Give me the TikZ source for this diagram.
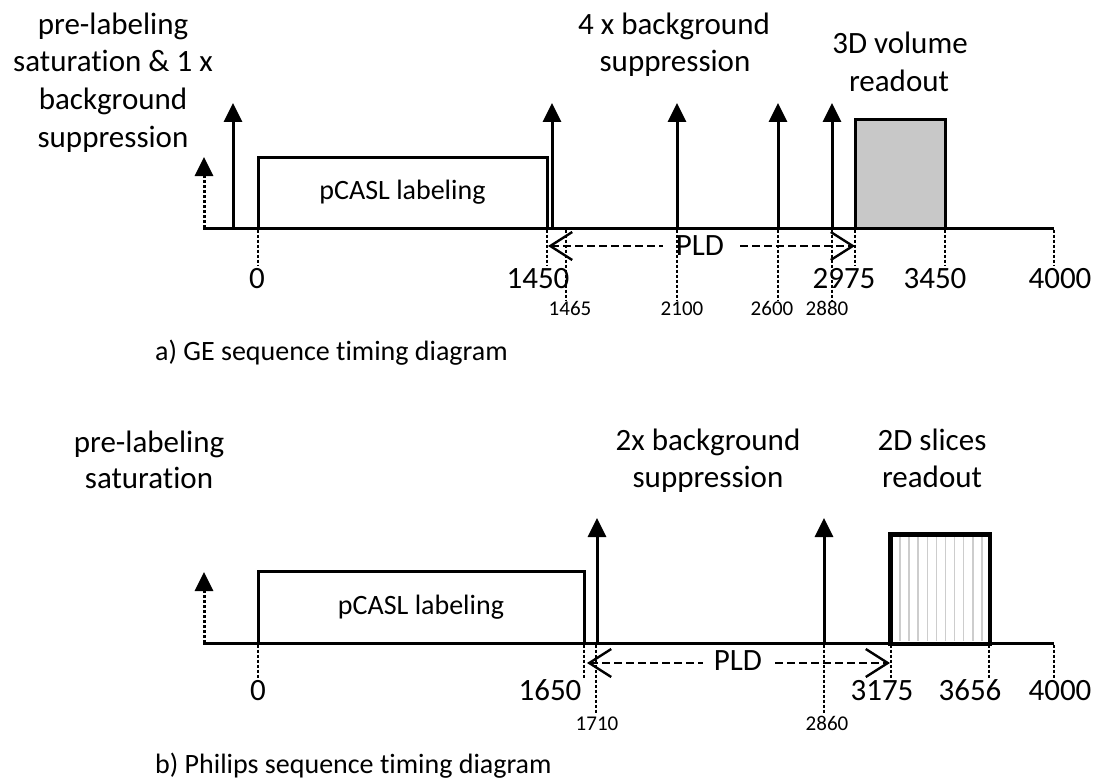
\documentclass[tikz,border=0pt]{standalone}
\usepackage{fontspec}
\setmainfont{Carlito}[Ligatures={NoCommon}]
\usetikzlibrary{arrows.meta}
\definecolor{readgray}{RGB}{200,200,200}
\definecolor{stripegray}{RGB}{205,205,205}
\begin{document}
\begin{tikzpicture}[x=1pt,y=-1pt,
  axisline/.style={line width=3pt},
  boxstyle/.style={draw,line width=3pt,inner sep=0pt,font=\fontsize{28}{33}\selectfont},
  pulse/.style={line width=3pt,-{Triangle[length=19pt,width=18pt]}},
  satpulse/.style={line width=3pt,dash pattern=on 3pt off 2pt,-{Triangle[length=19pt,width=18pt]}},
  tickline/.style={line width=2.8pt,dash pattern=on 3pt off 2pt},
  pldline/.style={line width=2.4pt,dash pattern=on 8pt off 4pt},
  pldtipL/.style={{Straight Barb[length=22pt,width=28pt]}-},
  pldtipR/.style={-{Straight Barb[length=22pt,width=28pt]}},
  lbl/.style={font=\fontsize{31}{37}\selectfont,inner sep=0pt,anchor=base},
  num/.style={font=\fontsize{31}{37}\selectfont,inner sep=0pt,anchor=base},
  smallnum/.style={font=\fontsize{21}{25}\selectfont,inner sep=0pt,anchor=base},
  caption/.style={font=\fontsize{28}{33}\selectfont,inner sep=0pt,anchor=base west}]
\useasboundingbox (0,0) rectangle (1097,781);

%================ a) GE =================
\coordinate (axA0) at (203,228);
\coordinate (axA1) at (1054,228);
\node[boxstyle,minimum width=289pt,minimum height=71pt] (pcA) at (402.5,192.5) {pCASL labeling};
\node[boxstyle,fill=readgray,minimum width=90pt,minimum height=108pt] (roA) at (900,174) {};
\draw[axisline] (axA0) -- (axA1);
\coordinate (sA) at (204,228);  \coordinate (sAt) at (204,157);
\coordinate (pA1) at (233,228); \coordinate (pA1t) at (233,103);
\coordinate (pA2) at (552,228); \coordinate (pA2t) at (552,103);
\coordinate (pA3) at (677,228); \coordinate (pA3t) at (677,103);
\coordinate (pA4) at (778,228); \coordinate (pA4t) at (778,103);
\coordinate (pA5) at (832,228); \coordinate (pA5t) at (832,103);
\draw[satpulse] (sA) -- (sAt);
\draw[pulse] (pA1) -- (pA1t);
\draw[pulse] (pA2) -- (pA2t);
\draw[pulse] (pA3) -- (pA3t);
\draw[pulse] (pA4) -- (pA4t);
\draw[pulse] (pA5) -- (pA5t);
\foreach \n/\x/\e in {tA0/258/266, tA1450/547/266, tA1465/566/300, tA2100/677/300,
  tA2600/778/300, tA2880/832/300, tA2975/855/266, tA3450/945/266, tA4000/1054/266}{
  \coordinate (\n) at (\x,229.5);
  \coordinate (\n e) at (\x,\e);
  \draw[tickline] (\n) -- (\n e);
}
\coordinate (pldAL) at (548,246);
\coordinate (pldAgL) at (663,246);
\coordinate (pldAgR) at (740,246);
\coordinate (pldAR) at (855,246);
\draw[pldline,pldtipL] (pldAL) -- (pldAgL);
\draw[pldline,pldtipR] (pldAgR) -- (pldAR);
\node[lbl] (pldA) at (700,255) {PLD};
\node[num] (nA0) at (257,288) {0};
\node[num] (nA1450) at (538,288) {1450};
\node[num] (nA2975) at (844,288) {2975};
\node[num] (nA3450) at (935,288) {3450};
\node[num] (nA4000) at (1060,288) {4000};
\node[smallnum] (sA1465) at (570,315) {1465};
\node[smallnum] (sA2100) at (682,315) {2100};
\node[smallnum] (sA2600) at (772,315) {2600};
\node[smallnum] (sA2880) at (827,315) {2880};
\node[lbl] (tA1) at (113,35) {pre-labeling};
\node[lbl] (tA2) at (113,72) {saturation \& 1 x};
\node[lbl] (tA3) at (113,110) {background};
\node[lbl] (tA4) at (113,147) {suppression};
\node[lbl] (tB1) at (674,35) {4 x background};
\node[lbl] (tB2) at (675,72) {suppression};
\node[lbl] (tC1) at (900,54) {3D volume};
\node[lbl] (tC2) at (899,92) {readout};
\node[caption] (capA) at (155,360) {a) GE sequence timing diagram};

%================ b) Philips =================
\coordinate (axB0) at (203,643);
\coordinate (axB1) at (1054,643);
\node[boxstyle,minimum width=326pt,minimum height=72pt] (pcB) at (421,607) {pCASL labeling};
\node[boxstyle,fill=white,minimum width=98pt,minimum height=108pt] (roB) at (940,589) {};
\foreach \i in {0,...,9}{
  \draw[stripegray,line width=1.5pt] (900+\i*9.1,537) -- (900+\i*9.1,641);
}
\draw[line width=3pt] (roB.south west) rectangle (roB.north east);
\draw[axisline] (axB0) -- (axB1);
\coordinate (sB) at (204,643);  \coordinate (sBt) at (204,572);
\coordinate (pB1) at (597,643); \coordinate (pB1t) at (597,518);
\coordinate (pB2) at (824,643); \coordinate (pB2t) at (824,518);
\draw[satpulse] (sB) -- (sBt);
\draw[pulse] (pB1) -- (pB1t);
\draw[pulse] (pB2) -- (pB2t);
\foreach \n/\x/\e in {tB0/258/678, tB1650/584/678, tB1710/596/713, tB2860/824/713,
  tB3175/891/678, tB3656/989/678, tB4000/1054/678}{
  \coordinate (\n) at (\x,644.5);
  \coordinate (\n e) at (\x,\e);
  \draw[tickline] (\n) -- (\n e);
}
\coordinate (pldBL) at (587,663);
\coordinate (pldBgL) at (703,663);
\coordinate (pldBgR) at (775,663);
\coordinate (pldBR) at (890,663);
\draw[pldline,pldtipL] (pldBL) -- (pldBgL);
\draw[pldline,pldtipR] (pldBgR) -- (pldBR);
\node[lbl] (pldB) at (738,670) {PLD};
\node[num] (nB0) at (258,700) {0};
\node[num] (nB1650) at (550,700) {1650};
\node[num] (nB3175) at (882,700) {3175};
\node[num] (nB3656) at (970,700) {3656};
\node[num] (nB4000) at (1060,700) {4000};
\node[smallnum] (sB1710) at (597,730) {1710};
\node[smallnum] (sB2860) at (827,730) {2860};
\node[lbl] (tD1) at (149,452) {pre-labeling};
\node[lbl] (tD2) at (149,488) {saturation};
\node[lbl] (tE1) at (708,450) {2x background};
\node[lbl] (tE2) at (708,487) {suppression};
\node[lbl] (tF1) at (932,450) {2D slices};
\node[lbl] (tF2) at (932,487) {readout};
\node[caption] (capB) at (155,773) {b) Philips sequence timing diagram};
\end{tikzpicture}
\end{document}
